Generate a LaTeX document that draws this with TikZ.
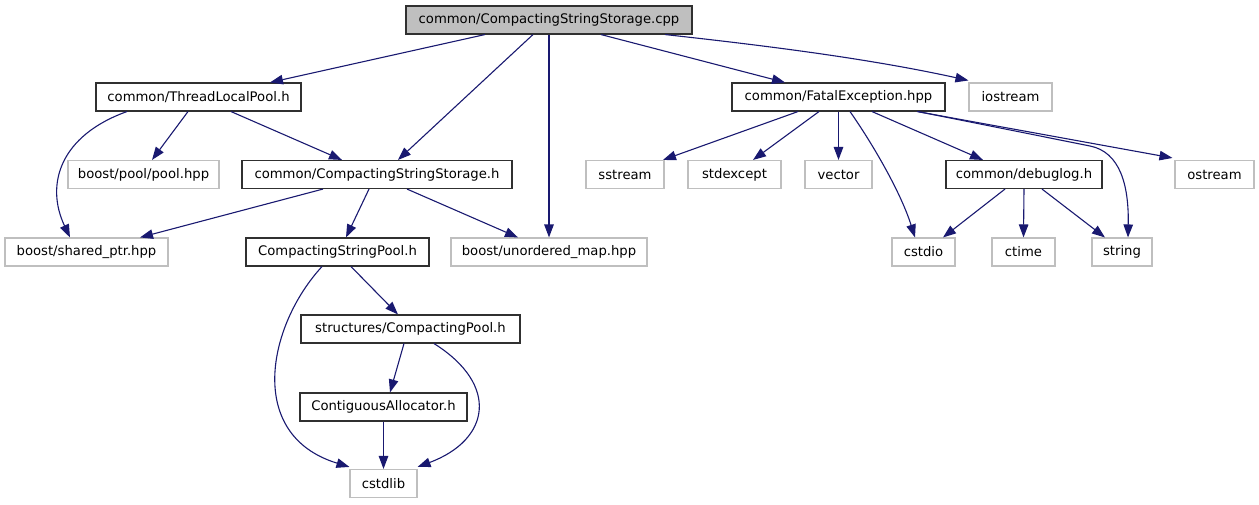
\documentclass[tikz,border=0pt]{standalone}
\usepackage{fontspec}
\setmainfont{DejaVu Sans}
\usetikzlibrary{arrows.meta}
\definecolor{edge}{HTML}{191970}
\definecolor{lightb}{HTML}{BFBFBF}
\definecolor{darkb}{HTML}{303030}
\begin{document}
\begin{tikzpicture}[x=1pt,y=-1pt,
  every node/.style={inner sep=0pt,font=\fontsize{13.2}{15}\selectfont},
  filebox/.style={draw=darkb,line width=1.1pt,rectangle,minimum height=28pt,fill=white},
  extbox/.style={draw=lightb,line width=1.1pt,rectangle,minimum height=28pt,fill=white},
  rootbox/.style={draw=darkb,line width=1.1pt,rectangle,minimum height=28pt,fill=lightb},
  dep/.style={draw=edge,line width=1.1pt,-{Triangle[length=13pt,width=9.5pt]}}]
\useasboundingbox (0,0) rectangle (1259,504);
% nodes
\node[rootbox,minimum width=286pt] (root) at (549,20) {common/CompactingStringStorage.cpp};
\node[filebox,minimum width=205pt] (tlp) at (198.5,97) {common/ThreadLocalPool.h};
\node[extbox,minimum width=151pt] (pool) at (143.5,174.5) {boost/pool/pool.hpp};
\node[filebox,minimum width=270pt] (css) at (377,174.5) {common/CompactingStringStorage.h};
\node[extbox,minimum width=163pt] (shared) at (86.5,252) {boost/shared\_ptr.hpp};
\node[filebox,minimum width=183pt] (cspool) at (337.5,252) {CompactingStringPool.h};
\node[extbox,minimum width=196pt] (umap) at (549,252) {boost/unordered\_map.hpp};
\node[filebox,minimum width=213pt] (fatal) at (838.5,97) {common/FatalException.hpp};
\node[extbox,minimum width=83pt] (iostream) at (1010.5,97) {iostream};
\node[extbox,minimum width=78pt] (sstream) at (625,174.5) {sstream};
\node[extbox,minimum width=93pt] (stdexcept) at (734.5,174.5) {stdexcept};
\node[extbox,minimum width=67pt] (vector) at (838.5,174.5) {vector};
\node[filebox,minimum width=156pt] (debuglog) at (1024,174.5) {common/debuglog.h};
\node[extbox,minimum width=79pt] (ostream) at (1214.5,174.5) {ostream};
\node[extbox,minimum width=63pt] (cstdio) at (923.5,252) {cstdio};
\node[extbox,minimum width=63pt] (ctime) at (1023.5,252) {ctime};
\node[extbox,minimum width=60pt] (string) at (1122,252) {string};
\node[filebox,minimum width=219pt] (cpool) at (410.5,329) {structures/CompactingPool.h};
\node[filebox,minimum width=167pt] (contig) at (383.5,407) {ContiguousAllocator.h};
\node[extbox,minimum width=67pt] (cstdlib) at (383.5,483.5) {cstdlib};
% edges from root
\draw[dep] ([xshift=-64pt]root.south) -- ([xshift=71.5pt]tlp.north);
\draw[dep] ([xshift=-16pt]root.south) -- ([xshift=21pt]css.north);
\draw[dep] (root.south) -- (umap.north);
\draw[dep] ([xshift=52pt]root.south) -- ([xshift=-53.5pt]fatal.north);
\draw[dep] ([xshift=116pt]root.south) .. controls +(100,11) and +(-100,-22) .. ([yshift=2pt]iostream.north west);
% ThreadLocalPool
\draw[dep] ([xshift=-71.5pt]tlp.south) .. controls +(-67,24) and +(-25,-53) .. ([xshift=-16.5pt]shared.north);
\draw[dep] ([xshift=-10.5pt]tlp.south) -- ([xshift=8.5pt]pool.north);
\draw[dep] ([xshift=32.5pt]tlp.south) -- ([xshift=-35pt]css.north);
% CompactingStringStorage.h
\draw[dep] ([xshift=-54pt]css.south) -- ([xshift=53.5pt]shared.north);
\draw[dep] ([xshift=-8pt]css.south) -- ([xshift=8.5pt]cspool.north);
\draw[dep] ([xshift=30pt]css.south) -- ([xshift=-31pt]umap.north);
% CompactingStringPool.h
\draw[dep] ([xshift=13.5pt]cspool.south) -- ([xshift=-12.5pt]cpool.north);
\draw[dep] ([xshift=-15.5pt]cspool.south) .. controls (268,325) and (245,435) .. ([yshift=2pt]cstdlib.north west);
% CompactingPool
\draw[dep] ([xshift=-6.5pt]cpool.south) -- ([xshift=6.5pt]contig.north);
\draw[dep] ([xshift=23.5pt]cpool.south) .. controls (500,385) and (490,440) .. ([yshift=2pt]cstdlib.north east);
\draw[dep] (contig.south) -- (cstdlib.north);
% FatalException
\draw[dep] ([xshift=-40.5pt]fatal.south) -- ([xshift=38pt]sstream.north);
\draw[dep] ([xshift=-19.5pt]fatal.south) -- ([xshift=18.5pt]stdexcept.north);
\draw[dep] (fatal.south) -- (vector.north);
\draw[dep] ([xshift=11.5pt]fatal.south) .. controls (870,140) and (900,190) .. ([xshift=-8.5pt]cstdio.north);
\draw[dep] ([xshift=33.5pt]fatal.south) -- ([xshift=-41pt]debuglog.north);
\draw[dep] ([xshift=78.5pt]fatal.south) -- ([xshift=-2pt,yshift=2pt]ostream.north west);
\draw[dep] ([xshift=79.5pt]fatal.south) -- (1090,146) .. controls (1120,152) and (1129,185) .. ([xshift=6pt]string.north);
% debuglog
\draw[dep] ([xshift=-19pt]debuglog.south) -- ([xshift=19.5pt]cstdio.north);
\draw[dep] (debuglog.south) -- (ctime.north);
\draw[dep] ([xshift=18pt]debuglog.south) -- ([xshift=-17pt]string.north);
\end{tikzpicture}
\end{document}
